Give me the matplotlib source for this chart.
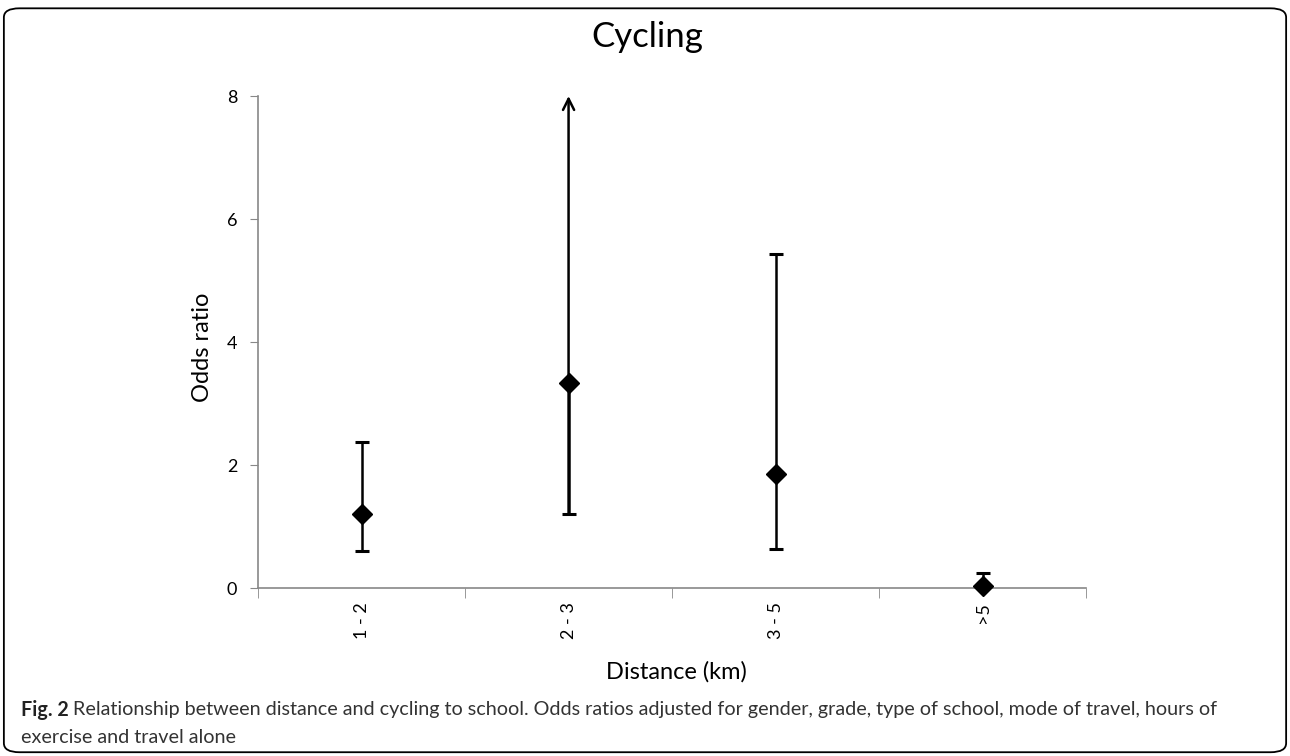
import numpy as np
import matplotlib.pyplot as plt
from matplotlib.patches import FancyBboxPatch

# data
categories = ['1 - 2', '2 - 3', '3 - 5', '>5']
odds = [1.2, 3.33, 1.85, 0.03]
ci_low = [0.6, 1.2, 0.63, 0.0]
ci_high = [2.38, 8.0, 5.43, 0.25]
open_top = [False, True, False, False]   # upper limit runs off the chart

caption_bold = 'Fig. 2'
caption_1 = ' Relationship between distance and cycling to school. Odds ratios adjusted for gender, grade, type of school, mode of travel, hours of'
caption_2 = 'exercise and travel alone'

plt.rcParams['font.family'] = ['Lato', 'DejaVu Sans']

fig = plt.figure(figsize=(12.9, 7.56), dpi=100)
ax = fig.add_axes([0.2, 0.2222, 0.642, 0.6508])

x = np.arange(len(categories)) + 0.5
for i in range(len(categories)):
    if open_top[i]:
        # upper limit unknown -> arrow up to the top of the axis
        ax.annotate('', xy=(x[i], ci_high[i]), xytext=(x[i], ci_low[i]),
                    arrowprops=dict(arrowstyle='->', color='black', lw=1.8,
                                    mutation_scale=20, shrinkA=0, shrinkB=0),
                    annotation_clip=False)
        ax.errorbar([x[i]], [odds[i]], yerr=[[odds[i] - ci_low[i]], [0]],
                    fmt='none', ecolor='black', elinewidth=1.8, capsize=5, capthick=2.2)
    else:
        ax.errorbar([x[i]], [odds[i]], yerr=[[odds[i] - ci_low[i]], [ci_high[i] - odds[i]]],
                    fmt='none', ecolor='black', elinewidth=1.8, capsize=5, capthick=2.2)
ax.plot(x, odds, linestyle='none', marker='D', color='black', markersize=10, zorder=5, clip_on=False)

ax.set_xlim(0, len(categories))
ax.set_ylim(0, 8)
ax.set_yticks([0, 2, 4, 6, 8])
ax.set_xticks(x)
ax.set_xticklabels(categories, rotation=90, fontsize=13)
ax.set_xticks(np.arange(len(categories) + 1), minor=True)
ax.tick_params(axis='x', which='major', length=0, pad=10)
ax.tick_params(axis='x', which='minor', length=7, color='#888888', direction='out')
ax.tick_params(axis='y', length=6, color='#888888', labelsize=13, pad=9)

for s in ['top', 'right']:
    ax.spines[s].set_visible(False)
ax.spines['left'].set_color('#888888')
ax.spines['bottom'].set_color('#888888')
ax.spines['left'].set_linewidth(1.2)
ax.spines['bottom'].set_linewidth(1.2)

fig.text(0.157, 0.54, 'Odds ratio', fontsize=17, rotation=90, ha='center', va='center')
fig.text(0.524, 0.111, 'Distance (km)', fontsize=17, ha='center', va='center')
fig.text(0.502, 0.951, 'Cycling', fontsize=25, ha='center', va='center')

# caption, bold prefix then plain text
t = fig.text(0.016, 0.061, caption_bold, fontsize=14.2, fontweight='bold', va='center', ha='left', color='#222222')
fig.canvas.draw()
bb = t.get_window_extent(renderer=fig.canvas.get_renderer())
fig.text(bb.x1 / fig.bbox.width, 0.061, caption_1, fontsize=14.2, va='center', ha='left', color='#333333')
fig.text(0.016, 0.024, caption_2, fontsize=14.2, va='center', ha='left', color='#333333')

box = FancyBboxPatch((0.003, 0.005), 0.994, 0.984, boxstyle='round,pad=0,rounding_size=0.012',
                     transform=fig.transFigure, fill=False, edgecolor='black', lw=1.3)
fig.patches.append(box)

fig.savefig('out.png', dpi=100)
